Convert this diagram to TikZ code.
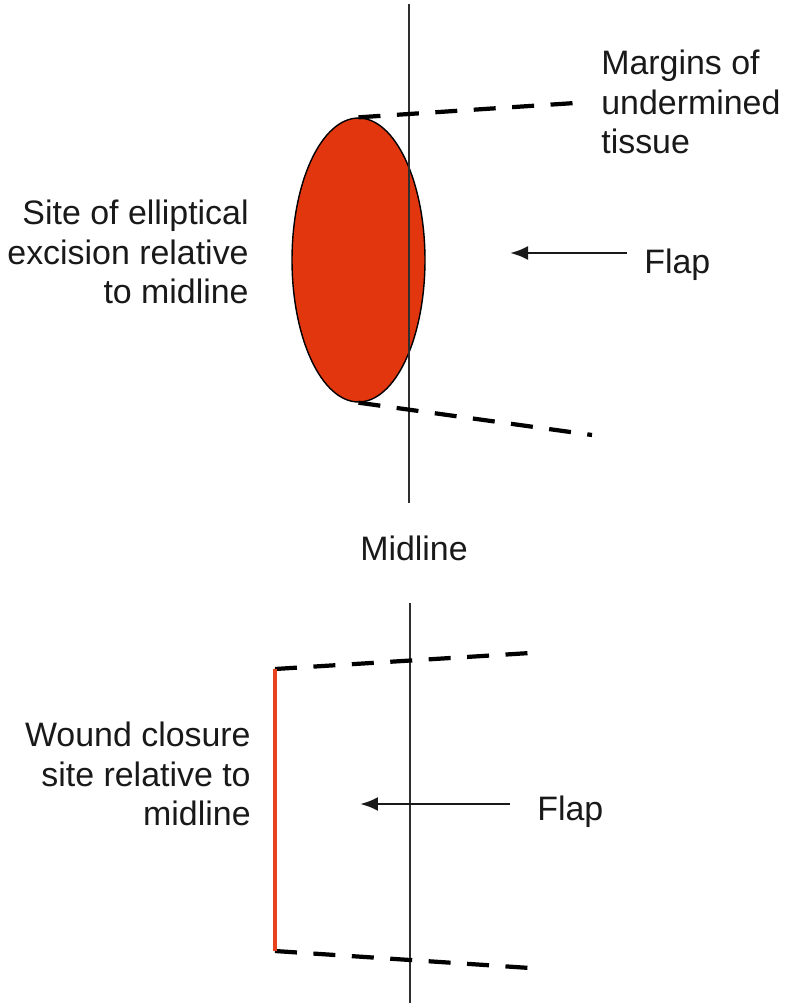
\documentclass[tikz,border=0pt]{standalone}
\usepackage{fontspec}
\setmainfont{Liberation Sans}
\usepackage{xcolor}
\usepackage{tikz}
\usetikzlibrary{shapes.geometric, arrows.meta}
\definecolor{woundred}{HTML}{E2360F}
\definecolor{lineclose}{HTML}{E8431F}
\definecolor{midgray}{HTML}{2E2E2E}

\begin{document}
\begin{tikzpicture}[
    x=0.02cm, y=-0.02cm,
    every node/.style={font=\fontsize{19.3pt}{22.3pt}\selectfont},
    excision/.style={
        ellipse,
        draw=black,
        fill=woundred,
        line width=0.8pt,
        inner sep=0pt,
        minimum width=2.66cm,
        minimum height=5.68cm
    },
    midline/.style={
        line width=1.6pt,
        draw=midgray
    },
    margin/.style={
        line width=2.4pt,
        dash pattern=on 0.44cm off 0.33cm
    },
    myarrow/.style={
        -{Latex[length=0.36cm, width=0.28cm]},
        line width=1.6pt,
        draw=black!90
    },
    mylabel/.style={
        inner sep=0pt,
        text=black!90
    }
]
\useasboundingbox (0,0) rectangle (785,1008);

% Top: elliptical excision
\coordinate (midtop1) at (409,4);
\coordinate (midbot1) at (409,503);
\draw[midline] (midtop1) -- (midbot1);
\node[excision] (ellipse) at (358.5,260) {};
\draw[midline, line width=1.2pt] (409,150) -- (409,370);

\coordinate (margtop) at (575,103);
\coordinate (margbot) at (592,435);
\draw[margin] (ellipse.north) -- (margtop);
\draw[margin] (ellipse.south) -- (margbot);

% Top: flap arrow
\coordinate (tail1) at (627,253);
\coordinate (tip1) at (510,253);
\draw[myarrow] (tail1) -- (tip1);

% Bottom: wound closure
\coordinate (midtop2) at (410,603);
\coordinate (midbot2) at (410,1003);
\draw[midline] (midtop2) -- (midbot2);

\coordinate (closetop) at (275,669);
\coordinate (closebot) at (275,951);
\coordinate (endtop) at (530,653);
\coordinate (endbot) at (530,968);
\draw[margin] (closetop) -- (endtop);
\draw[margin] (closebot) -- (endbot);
\draw[line width=2.3pt, draw=lineclose] (closetop) -- (closebot);

% Bottom: flap arrow
\coordinate (tail2) at (510,804);
\coordinate (tip2) at (360,804);
\draw[myarrow] (tail2) -- (tip2);

% Labels
\node[mylabel, anchor=north west, align=left] (margins) at (601,50)
    {Margins of\\undermined\\tissue};
\node[mylabel, anchor=north east, align=right] (sitelabel) at (249,200)
    {Site of elliptical\\excision relative\\to midline};
\node[mylabel, anchor=base west] (flap1) at (644,273) {Flap};
\node[mylabel, anchor=base] (midlabel) at (414,560) {Midline};
\node[mylabel, anchor=north east, align=right] (closelabel) at (251,722)
    {Wound closure\\site relative to\\midline};
\node[mylabel, anchor=base west] (flap2) at (537,820) {Flap};

\end{tikzpicture}
\end{document}
